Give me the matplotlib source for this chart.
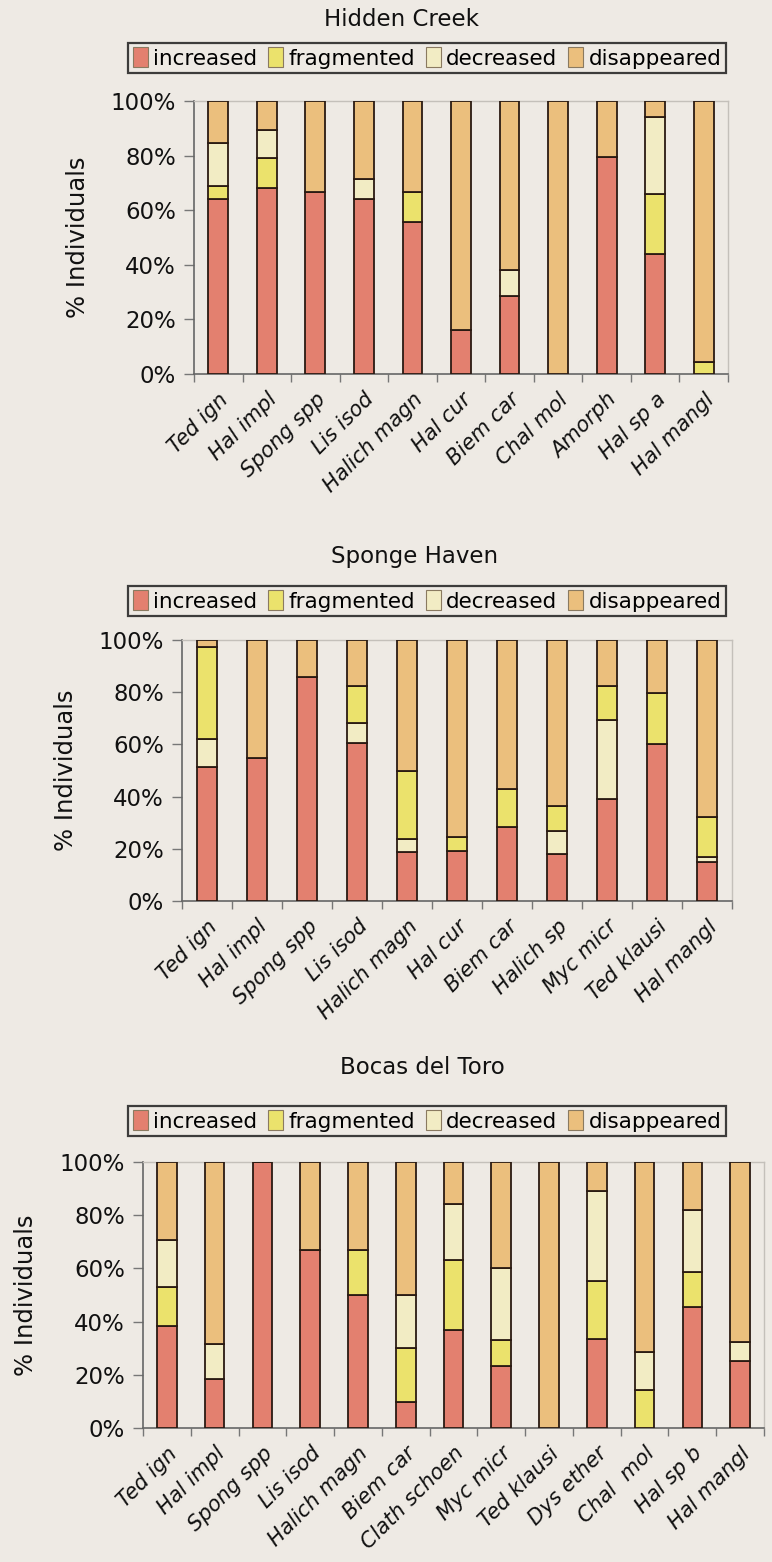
import matplotlib
matplotlib.use("Agg")
import matplotlib.pyplot as plt
from matplotlib.patches import Patch
import numpy as np

plt.rcParams['font.family'] = ['DejaVu Sans']

W, H = 772, 1562
BG = '#eeeae4'

categories_legend = ['increased', 'fragmented', 'decreased', 'disappeared']
colors = {'increased': '#e3806f', 'fragmented': '#ebe26c',
          'decreased': '#f2ecc4', 'disappeared': '#ebbf7d'}

# Hidden Creek
hc_species = ['Ted ign', 'Hal impl', 'Spong spp', 'Lis isod', 'Halich magn', 'Hal cur',
              'Biem car', 'Chal mol', 'Amorph', 'Hal sp a', 'Hal mangl']
hc_increased = [64, 68, 66.5, 64, 55.5, 16, 28.5, 0, 79.5, 44, 0]
hc_fragmented = [5, 11, 0, 0, 11, 0, 0, 0, 0, 22, 4.5]
hc_decreased = [15.5, 10.5, 0, 7.5, 0, 0, 9.5, 0, 0, 28, 0]
hc_disappeared = [15.5, 10.5, 33.5, 28.5, 33.5, 84, 62, 100, 20.5, 6, 95.5]

# Sponge Haven
sh_species = ['Ted ign', 'Hal impl', 'Spong spp', 'Lis isod', 'Halich magn', 'Hal cur',
              'Biem car', 'Halich sp', 'Myc micr', 'Ted klausi', 'Hal mangl']
sh_increased = [51.3, 54.7, 86, 60.7, 18.6, 19, 28.5, 18, 39, 60, 15]
sh_decreased = [10.8, 0, 0, 7.4, 5.2, 0, 0, 9, 30.4, 0, 1.8]
sh_fragmented = [35.1, 0, 0, 14.1, 26.1, 5.4, 14.3, 9.4, 13, 19.8, 15.5]
sh_disappeared = [2.8, 45.3, 14, 17.8, 50.1, 75.6, 57.2, 63.6, 17.6, 20.2, 67.7]

# Bocas del Toro
bt_species = ['Ted ign', 'Hal impl', 'Spong spp', 'Lis isod', 'Halich magn', 'Biem car',
              'Clath schoen', 'Myc micr', 'Ted klausi', 'Dys ether', 'Chal  mol',
              'Hal sp b', 'Hal mangl']
bt_increased = [38.5, 18.4, 100, 66.9, 49.9, 9.9, 37, 23.4, 0, 33.5, 0, 45.5, 25.2]
bt_fragmented = [14.4, 0, 0, 0, 16.9, 20.2, 26, 9.8, 0, 21.9, 14.2, 13.3, 0]
bt_decreased = [17.8, 13.2, 0, 0, 0, 19.8, 21.2, 26.8, 0, 33.7, 14.4, 23, 7.2]
bt_disappeared = [29.3, 68.4, 0, 33.1, 33.2, 50.1, 15.8, 40, 100, 10.9, 71.4, 18.2, 67.6]

panels = [
    dict(title='Hidden Creek', species=hc_species,
         series=[('increased', hc_increased), ('fragmented', hc_fragmented),
                 ('decreased', hc_decreased), ('disappeared', hc_disappeared)],
         ax=(194, 728, 101, 374), title_xy=(402, 20), leg_y=58, ylab_x=78),
    dict(title='Sponge Haven', species=sh_species,
         series=[('increased', sh_increased), ('decreased', sh_decreased),
                 ('fragmented', sh_fragmented), ('disappeared', sh_disappeared)],
         ax=(182, 732, 640, 901), title_xy=(415, 557), leg_y=601, ylab_x=66),
    dict(title='Bocas del Toro', species=bt_species,
         series=[('increased', bt_increased), ('fragmented', bt_fragmented),
                 ('decreased', bt_decreased), ('disappeared', bt_disappeared)],
         ax=(143, 764, 1162, 1428), title_xy=(422, 1068), leg_y=1121, ylab_x=26),
]

fig = plt.figure(figsize=(W / 100, H / 100), dpi=100, facecolor=BG)

for p in panels:
    l, r, t, b = p['ax']
    ax = fig.add_axes([l / W, 1 - b / H, (r - l) / W, (b - t) / H])
    ax.set_facecolor(BG)
    n = len(p['species'])
    x = np.arange(n)
    bottom = np.zeros(n)
    for name, vals in p['series']:
        vals = np.array(vals, dtype=float)
        ax.bar(x, vals, 0.41, bottom=bottom, color=colors[name],
               edgecolor='#2a1a12', linewidth=1.3, zorder=3)
        bottom += vals
    ax.set_xlim(-0.5, n - 0.5)
    ax.set_ylim(0, 100)
    ax.set_yticks([0, 20, 40, 60, 80, 100])
    ax.set_yticklabels(['0%', '20%', '40%', '60%', '80%', '100%'], fontsize=16.5, color='#111')
    ax.tick_params(axis='y', length=7, width=1, color='#777', pad=6)
    ax.set_xticks(x)
    ax.set_xticklabels(p['species'], rotation=45, ha='right', va='top',
                       rotation_mode='anchor', fontsize=15, fontstyle='italic', color='#111')
    ax.tick_params(axis='x', length=0, pad=11)
    ax.set_xticks(np.arange(n + 1) - 0.5, minor=True)
    ax.tick_params(axis='x', which='minor', length=6, width=1, color='#777')
    for s in ['left', 'bottom']:
        ax.spines[s].set_color('#666')
        ax.spines[s].set_linewidth(1.2)
    for s in ['top', 'right']:
        ax.spines[s].set_color('#c4c0ba')
        ax.spines[s].set_linewidth(1.0)

    tx, ty = p['title_xy']
    fig.text(tx / W, 1 - ty / H, p['title'], ha='center', va='center', fontsize=16.5, color='#111')
    fig.text(p['ylab_x'] / W, 1 - ((t + b) / 2) / H, '% Individuals', rotation=90,
             ha='center', va='center', fontsize=17.5, color='#111')

    handles = [Patch(facecolor=colors[c], edgecolor='#8a7a60', linewidth=0.8) for c in categories_legend]
    leg = fig.legend(handles, categories_legend, loc='center', ncol=4,
                     bbox_to_anchor=(427 / W, 1 - p['leg_y'] / H),
                     fontsize=15.5, frameon=True, fancybox=False,
                     handlelength=0.7, handleheight=1.0, handletextpad=0.25,
                     columnspacing=0.5, borderpad=0.2, borderaxespad=0)
    leg.get_frame().set_edgecolor('#111')
    leg.get_frame().set_linewidth(1.6)
    leg.get_frame().set_facecolor(BG)

fig.savefig('out.png', dpi=100, facecolor=BG)
